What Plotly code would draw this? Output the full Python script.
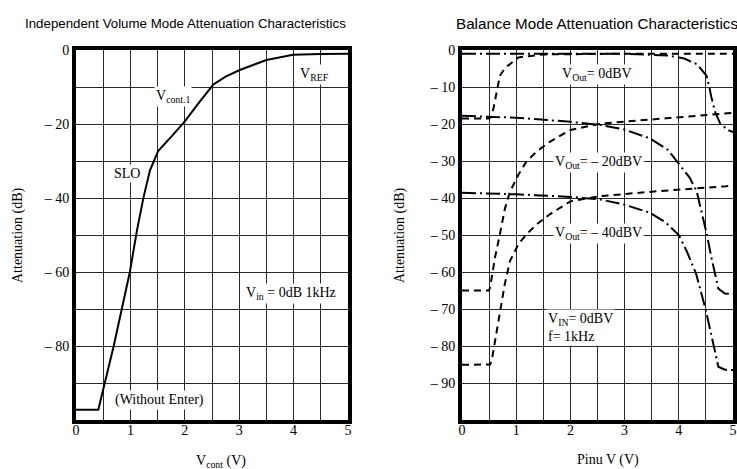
import plotly.graph_objects as go

# ---------------- data ----------------
# Left: Independent Volume Mode
left_v = [0, 0.41, 0.69, 0.99, 1.12, 1.24, 1.36, 1.51, 1.79, 2.0, 2.25, 2.52, 2.75, 3.01, 3.5, 3.99, 4.5, 5.0]
left_att = [-97.2, -97.2, -80.2, -60, -48.8, -39.9, -32.5, -27.3, -22.8, -19.3, -14.4, -9.4, -7.2, -5.4, -2.7, -1.3, -1.1, -1.0]

# Right: Balance Mode
dashed_0_v = [0, 0.5, 0.55, 0.58, 0.64, 0.7, 0.8, 0.88, 1.04, 1.5, 3.0, 5.0]
dashed_0_att = [-18.5, -18.5, -18.0, -15.8, -11.3, -6.9, -4.8, -3.8, -2.0, -1.2, -1.0, -1.0]

dashdot_0_v = [0, 1, 2, 3, 3.8, 4.1, 4.33, 4.51, 4.57, 4.6, 4.67, 4.76, 4.9, 5.0]
dashdot_0_att = [-1.0, -1.0, -1.0, -1.0, -1.5, -2.3, -3.8, -6.9, -10.5, -12.7, -16.7, -19.8, -21.6, -22.2]

dashed_20_v = [0, 0.5, 0.52, 0.55, 0.61, 0.7, 0.79, 0.88, 1.04, 1.19, 1.38, 1.62, 2.0, 2.55, 3.5, 4.88, 5.0]
dashed_20_att = [-65, -65, -64, -61.4, -56, -49.7, -43, -38.5, -33.7, -30.1, -27.4, -24.8, -21.6, -19.9, -18.8, -17.2, -17.0]

dashdot_20_v = [0, 1, 2, 2.55, 3.0, 3.47, 3.8, 4.02, 4.2, 4.33, 4.39, 4.45, 4.52, 4.6, 4.67, 4.73, 4.85, 5.0]
dashdot_20_att = [-17.8, -18.3, -19.4, -20.3, -21.5, -23.9, -27, -31, -34.5, -38.2, -41.7, -45.3, -50, -56, -61, -64.5, -65.8, -66]

dashed_40_v = [0, 0.5, 0.52, 0.55, 0.61, 0.7, 0.79, 0.886, 1.04, 1.19, 1.38, 1.62, 2.0, 2.55, 3.5, 4.88, 5.0]
dashed_40_att = [-85.1, -85.1, -85, -83.8, -78.4, -70.4, -63.2, -57, -52.5, -49.8, -47.1, -44.4, -40.9, -39.5, -38.3, -36.8, -36.6]

dashdot_40_v = [0, 1, 2, 2.55, 3.0, 3.47, 3.75, 4.0, 4.15, 4.32, 4.5, 4.58, 4.66, 4.73, 4.85, 5.0]
dashdot_40_att = [-38.6, -39.0, -39.7, -40.4, -41.8, -44, -46.5, -50, -54.5, -60.5, -70.4, -75.5, -81, -85.6, -86.4, -86.5]

x_ticks = [0, 1, 2, 3, 4, 5]
left_y_ticks = [0, -20, -40, -60, -80]
left_y_text = ["0", "\u2013 20", "\u2013 40", "\u2013 60", "\u2013 80"]
right_y_ticks = [0, -10, -20, -30, -40, -50, -60, -70, -80, -90]
right_y_text = ["0", "\u2013 10", "\u2013 20", "\u2013 30", "\u2013 40", "\u2013 50", "\u2013 60", "\u2013 70", "\u2013 80", "\u2013 90"]

# ---------------- figure ----------------
W, H = 737, 469
SERIF = "Liberation Serif, Times New Roman, serif"
SANS = "Liberation Sans Narrow, Arial Narrow, Liberation Sans, Arial, sans-serif"
GRID = "#2a2a2a"

fig = go.Figure()
solid = dict(color="black", width=2)
dash = dict(color="black", width=2, dash="7px,5px")
dashdot = dict(color="black", width=2, dash="14px,4px,2px,4px")

fig.add_trace(go.Scatter(x=left_v, y=left_att, mode="lines", line=solid, xaxis="x", yaxis="y"))
for xs, ys, ln in [
    (dashed_0_v, dashed_0_att, dash),
    (dashdot_0_v, dashdot_0_att, dashdot),
    (dashed_20_v, dashed_20_att, dash),
    (dashdot_20_v, dashdot_20_att, dashdot),
    (dashed_40_v, dashed_40_att, dash),
    (dashdot_40_v, dashdot_40_att, dashdot),
]:
    fig.add_trace(go.Scatter(x=xs, y=ys, mode="lines", line=ln, xaxis="x2", yaxis="y2"))

def px2x(p):
    return p / W

def px2y(p):
    return 1 - p / H

ydom = [px2y(420), px2y(50)]
common_x = dict(range=[0, 5], tickvals=x_ticks, showgrid=True, gridcolor=GRID, gridwidth=1,
                minor=dict(dtick=0.5, showgrid=True, gridcolor=GRID, gridwidth=1),
                showline=True, linecolor="black", linewidth=4, mirror=True, ticks="",
                zeroline=False, automargin=False, ticklabelstandoff=-6,
                tickfont=dict(family=SERIF, size=14, color="black"))
common_y = dict(range=[-100, 0], showgrid=True, gridcolor=GRID, gridwidth=1,
                minor=dict(dtick=10, tick0=0, showgrid=True, gridcolor=GRID, gridwidth=1),
                showline=True, linecolor="black", linewidth=4, mirror=True, ticks="",
                zeroline=False, automargin=False,
                tickfont=dict(family=SERIF, size=14, color="black"))

fig.update_layout(
    width=W, height=H,
    margin=dict(l=0, r=0, t=0, b=0, autoexpand=False),
    paper_bgcolor="white", plot_bgcolor="white",
    showlegend=False,
    xaxis=dict(domain=[px2x(76), px2x(348)], anchor="y", **common_x),
    yaxis=dict(domain=ydom, anchor="x", tickvals=left_y_ticks, ticktext=left_y_text, **common_y),
    xaxis2=dict(domain=[px2x(462), px2x(733)], anchor="y2", **common_x),
    yaxis2=dict(domain=ydom, anchor="x2", tickvals=right_y_ticks, ticktext=right_y_text, **common_y),
)

ann = []
def label(text, x, y, xref, yref, align="center", xanchor="center"):
    ann.append(dict(text=text, x=x, y=y, xref=xref, yref=yref, showarrow=False,
                    font=dict(family=SERIF, size=14, color="black"),
                    bgcolor="white", borderpad=1, align=align, xanchor=xanchor))

# left chart labels
label("V<sub>cont.1</sub>", 1.78, -12.6, "x", "y")
label("V<sub>REF</sub>", 4.39, -6.7, "x", "y")
label("SLO", 0.94, -33.5, "x", "y")
label("V<sub>in</sub> = 0dB 1kHz", 3.95, -65.9, "x", "y")
label("(Without Enter)", 1.54, -94.5, "x", "y")
# right chart labels
label("V<sub>Out</sub>= 0dBV", 2.49, -6.5, "x2", "y2")
label("V<sub>Out</sub>= \u2013 20dBV", 2.51, -30.5, "x2", "y2")
label("V<sub>Out</sub>= \u2013 40dBV", 2.51, -49.7, "x2", "y2")
label("V<sub>IN</sub>= 0dBV<br>f= 1kHz", 1.55, -75.0, "x2", "y2", align="left", xanchor="left")

# titles
for txt, x, sz in [("Independent Volume Mode Attenuation Characteristics", 23, 13.3),
                   ("Balance Mode Attenuation Characteristics", 454, 15.2)]:
    ann.append(dict(text=txt, x=px2x(x), y=px2y(23), xref="paper", yref="paper", showarrow=False,
                    xanchor="left", yanchor="middle",
                    font=dict(family=SANS, size=sz, color="black")))

# axis titles
for txt, x, y, ang in [("Attenuation (dB)", 18, 235, -90), ("Attenuation (dB)", 400, 235, -90),
                       ("V<sub>cont</sub> (V)", 221, 461, 0), ("Pinu V (V)", 608, 460, 0)]:
    ann.append(dict(text=txt, x=px2x(x), y=px2y(y), xref="paper", yref="paper", showarrow=False,
                    xanchor="center", yanchor="middle", textangle=ang,
                    font=dict(family=SERIF, size=14, color="black")))

fig.update_layout(annotations=ann)
fig.write_html("out.html", config={"displayModeBar": False},
               post_script="document.body.style.margin='0';document.body.style.overflow='hidden';")
